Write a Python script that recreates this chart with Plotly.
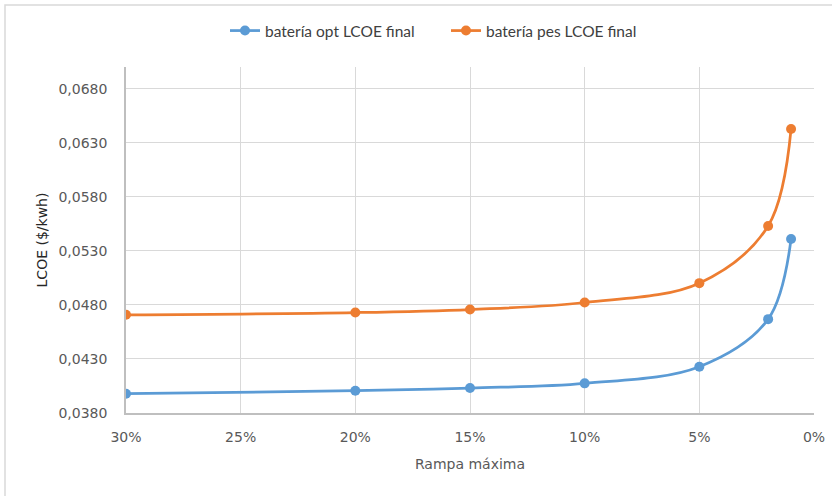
import plotly.graph_objects as go

# Maximum ramp (fraction) and final LCOE for each battery scenario
rampa = [0.30, 0.20, 0.15, 0.10, 0.05, 0.02, 0.01]
lcoe_opt = [0.03978, 0.04006, 0.04031, 0.04074, 0.04228, 0.04668, 0.05410]
lcoe_pes = [0.04708, 0.04729, 0.04757, 0.04822, 0.05001, 0.05530, 0.06427]

series_names = ["batería opt LCOE final", "batería pes LCOE final"]
series_colors = ["#5B9BD5", "#ED7D31"]

W, H = 832, 496
ML, MR, MT, MB = 126, 18, 67, 83

fig = go.Figure()
for name, vals, col in zip(series_names, [lcoe_opt, lcoe_pes], series_colors):
    fig.add_trace(go.Scatter(
        x=rampa, y=vals, name=name, mode="lines+markers",
        line=dict(color=col, width=2.75, shape="spline", smoothing=1.0),
        marker=dict(color=col, size=10),
    ))

text_col = "#595959"
tick_font = dict(family="DejaVu Sans", size=14, color=text_col)

# outer chart frame (extends past the right and bottom edges)
pw = W - ML - MR
ph = H - MT - MB
def px_to_paper_x(px):
    return (px - ML) / pw
def py_to_paper_y(py):
    return (H - MB - py) / ph

fig.add_shape(type="rect", xref="paper", yref="paper",
              x0=px_to_paper_x(5), x1=px_to_paper_x(845),
              y0=py_to_paper_y(510), y1=py_to_paper_y(5),
              line=dict(color="#D9D9D9", width=1.5), fillcolor="rgba(0,0,0,0)",
              layer="below")

fig.update_layout(
    width=W, height=H,
    margin=dict(l=ML, r=MR, t=MT, b=MB),
    paper_bgcolor="white", plot_bgcolor="white",
    separators=",.",
    showlegend=True,
    legend=dict(orientation="h", x=px_to_paper_x(446), xanchor="center",
                y=py_to_paper_y(31), yanchor="middle",
                font=dict(family="Lato", size=15.5, color="#404040"),
                itemwidth=30, entrywidth=176, entrywidthmode="pixels",
                bgcolor="rgba(0,0,0,0)"),
    xaxis=dict(
        range=[0.30, 0.0], autorange=False, automargin=False,
        tickmode="linear", tick0=0, dtick=0.05, tickformat=".0%",
        showgrid=True, gridcolor="#D9D9D9", gridwidth=1,
        showline=True, linecolor="#BFBFBF", linewidth=1.5,
        zeroline=False, ticks="", tickfont=tick_font,
        ticklabelstandoff=10,
        title=dict(text="Rampa máxima", font=dict(family="DejaVu Sans", size=14, color=text_col), standoff=16),
    ),
    yaxis=dict(
        range=[0.038, 0.070], autorange=False, automargin=False,
        tickmode="linear", tick0=0.038, dtick=0.005, tickformat=".4f",
        showgrid=True, gridcolor="#D9D9D9", gridwidth=1,
        showline=True, linecolor="#BFBFBF", linewidth=1.5,
        zeroline=False, ticks="", tickfont=tick_font,
        ticklabelstandoff=14,
        title=dict(text="LCOE ($/kwh)", font=dict(family="DejaVu Sans", size=14, color="#262626"), standoff=8),
    ),
)

fig.write_html("out.html")
